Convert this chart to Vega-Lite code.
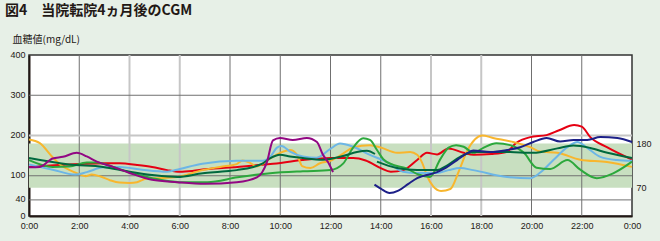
{
  "$schema": "https://vega.github.io/schema/vega-lite/v6.json",
  "width": 603,
  "height": 161,
  "autosize": "none",
  "padding": {"left": 29, "top": 55, "right": 28, "bottom": 25},
  "background": "#e7f0e7",
  "title": {
    "text": "図4　当院転院4ヵ月後のCGM",
    "anchor": "start",
    "frame": "group",
    "dx": -24,
    "offset": 16,
    "font": "Noto Sans CJK JP",
    "fontSize": 14,
    "fontWeight": "bold",
    "color": "#231815"
  },
  "config": {
    "view": {"stroke": "#333333", "strokeWidth": 1.5, "fill": "white"},
    "font": "Liberation Sans",
    "axis": {"labelFont": "Liberation Sans", "labelFontSize": 9, "labelColor": "#231815"}
  },
  "resolve": {"axis": {"y": "independent"}},
  "layer": [
    {
      "data": {"values": [{"lo": 70, "hi": 180}]},
      "mark": {"type": "rect", "color": "#c8dfc0"},
      "encoding": {
        "y": {
          "field": "lo", "type": "quantitative",
          "scale": {"domain": [0, 400], "nice": false, "zero": true},
          "axis": {"orient": "right", "values": [70, 180], "domain": false, "ticks": false, "grid": false, "labelPadding": 4, "title": null}
        },
        "y2": {"field": "hi"}
      }
    },
    {
      "data": {"values": [{"h": 2}, {"h": 4}, {"h": 6}, {"h": 8}, {"h": 10}, {"h": 12}, {"h": 14}, {"h": 16}, {"h": 18}, {"h": 20}, {"h": 22}]},
      "mark": {"type": "rule"},
      "encoding": {
        "x": {
          "field": "h", "type": "quantitative",
          "scale": {"domain": [0, 24], "nice": false, "zero": false},
          "axis": {"values": [0, 2, 4, 6, 8, 10, 12, 14, 16, 18, 20, 22, 24], "labelExpr": "(floor(datum.value) % 24) + ':00'", "domainColor": "#231815", "domainWidth": 2, "ticks": false, "grid": false, "labelPadding": 5, "labelFlush": false, "labelOverlap": false, "title": null}
        },
        "color": {"condition": {"test": "indexof([4, 6, 16, 18], datum.h) >= 0", "value": "#c6c6c6"}, "value": "#707070"},
        "strokeWidth": {"condition": {"test": "indexof([4, 6, 16, 18], datum.h) >= 0", "value": 2}, "value": 1}
      }
    },
    {
      "data": {"values": [{"v": 40}, {"v": 100}, {"v": 200}, {"v": 300}]},
      "mark": {"type": "rule"},
      "encoding": {
        "y": {"field": "v", "type": "quantitative", "scale": {"domain": [0, 400], "nice": false}, "axis": null},
        "color": {"condition": {"test": "datum.v == 200", "value": "#c6c6c6"}, "value": "#707070"},
        "strokeWidth": {"condition": {"test": "datum.v == 200", "value": 2}, "value": 1}
      }
    },
    {
      "data": {"name": "cgm"},
      "mark": {"type": "line", "strokeWidth": 2, "interpolate": "monotone"},
      "encoding": {
        "x": {"field": "h", "type": "quantitative", "scale": {"domain": [0, 24], "nice": false, "zero": false}},
        "y": {
          "field": "v", "type": "quantitative",
          "scale": {"domain": [0, 400], "nice": false},
          "axis": {"orient": "left", "values": [0, 40, 100, 200, 300, 400], "domainColor": "#231815", "domainWidth": 2, "ticks": false, "grid": false, "labelPadding": 4, "labelOffset": -1,
            "title": "血糖値(mg/dL)", "titleAngle": 0, "titleX": -17, "titleY": -16, "titleAlign": "left", "titleBaseline": "middle",
            "titleFont": "Noto Sans CJK JP", "titleFontSize": 10, "titleFontWeight": "normal", "titleColor": "#231815"}
        },
        "color": {
          "field": "s", "type": "nominal", "legend": null,
          "scale": {"domain": ["A", "B", "C", "D", "E", "F", "G"], "range": ["#e60012", "#f8b62d", "#6cb6e6", "#2ca83c", "#00693e", "#920783", "#1d2088"]}
        },
        "detail": {"field": "seg"}
      }
    }
  ],
  "datasets": {
    "cgm": [
      {"s": "A", "h": 0, "v": 122}, {"s": "A", "h": 1, "v": 126}, {"s": "A", "h": 2, "v": 129}, {"s": "A", "h": 3, "v": 131}, {"s": "A", "h": 3.6, "v": 131}, {"s": "A", "h": 4.3, "v": 127}, {"s": "A", "h": 4.9, "v": 122}, {"s": "A", "h": 5.5, "v": 114}, {"s": "A", "h": 6, "v": 110}, {"s": "A", "h": 6.5, "v": 112}, {"s": "A", "h": 7, "v": 116}, {"s": "A", "h": 8.3, "v": 122}, {"s": "A", "h": 9.6, "v": 129}, {"s": "A", "h": 10.9, "v": 139}, {"s": "A", "h": 12, "v": 144}, {"s": "A", "h": 12.9, "v": 144}, {"s": "A", "h": 13.4, "v": 138}, {"s": "A", "h": 14, "v": 119}, {"s": "A", "h": 14.4, "v": 110}, {"s": "A", "h": 14.9, "v": 114}, {"s": "A", "h": 15.45, "v": 139}, {"s": "A", "h": 15.84, "v": 157}, {"s": "A", "h": 16.24, "v": 153}, {"s": "A", "h": 16.7, "v": 168}, {"s": "A", "h": 17.3, "v": 157}, {"s": "A", "h": 17.7, "v": 152}, {"s": "A", "h": 18.4, "v": 154}, {"s": "A", "h": 19, "v": 159}, {"s": "A", "h": 19.4, "v": 182}, {"s": "A", "h": 19.95, "v": 196}, {"s": "A", "h": 20.6, "v": 201}, {"s": "A", "h": 21.1, "v": 213}, {"s": "A", "h": 21.7, "v": 226}, {"s": "A", "h": 22, "v": 222}, {"s": "A", "h": 22.34, "v": 196}, {"s": "A", "h": 23, "v": 171}, {"s": "A", "h": 24, "v": 140},
      {"s": "B", "h": 0, "v": 190}, {"s": "B", "h": 0.43, "v": 181}, {"s": "B", "h": 0.94, "v": 146}, {"s": "B", "h": 1.3, "v": 125}, {"s": "B", "h": 1.62, "v": 114}, {"s": "B", "h": 2, "v": 104}, {"s": "B", "h": 2.25, "v": 99}, {"s": "B", "h": 2.5, "v": 103}, {"s": "B", "h": 2.85, "v": 98}, {"s": "B", "h": 3.22, "v": 89}, {"s": "B", "h": 3.6, "v": 83}, {"s": "B", "h": 4, "v": 82}, {"s": "B", "h": 4.3, "v": 84}, {"s": "B", "h": 4.7, "v": 93}, {"s": "B", "h": 5.2, "v": 94}, {"s": "B", "h": 5.9, "v": 97}, {"s": "B", "h": 6.9, "v": 114}, {"s": "B", "h": 7.6, "v": 122}, {"s": "B", "h": 8.27, "v": 129}, {"s": "B", "h": 8.5, "v": 138}, {"s": "B", "h": 8.8, "v": 132}, {"s": "B", "h": 9.07, "v": 123}, {"s": "B", "h": 9.31, "v": 130}, {"s": "B", "h": 9.6, "v": 143}, {"s": "B", "h": 10, "v": 157}, {"s": "B", "h": 10.39, "v": 164}, {"s": "B", "h": 10.67, "v": 152}, {"s": "B", "h": 10.87, "v": 124}, {"s": "B", "h": 11.2, "v": 119}, {"s": "B", "h": 11.58, "v": 131}, {"s": "B", "h": 12, "v": 137}, {"s": "B", "h": 12.5, "v": 155}, {"s": "B", "h": 12.9, "v": 170}, {"s": "B", "h": 13.57, "v": 176}, {"s": "B", "h": 14, "v": 170}, {"s": "B", "h": 14.65, "v": 157}, {"s": "B", "h": 15.17, "v": 159}, {"s": "B", "h": 15.45, "v": 152}, {"s": "B", "h": 15.65, "v": 132}, {"s": "B", "h": 15.84, "v": 100}, {"s": "B", "h": 16.08, "v": 74}, {"s": "B", "h": 16.4, "v": 62}, {"s": "B", "h": 16.77, "v": 67}, {"s": "B", "h": 17.1, "v": 110}, {"s": "B", "h": 17.44, "v": 162}, {"s": "B", "h": 18.04, "v": 200}, {"s": "B", "h": 18.47, "v": 194}, {"s": "B", "h": 19.27, "v": 184}, {"s": "B", "h": 19.95, "v": 171}, {"s": "B", "h": 20.35, "v": 160}, {"s": "B", "h": 21.03, "v": 157}, {"s": "B", "h": 21.94, "v": 140}, {"s": "B", "h": 23, "v": 134}, {"s": "B", "h": 24, "v": 122},
      {"s": "C", "h": 0, "v": 128}, {"s": "C", "h": 0.94, "v": 115}, {"s": "C", "h": 1.83, "v": 103}, {"s": "C", "h": 2.3, "v": 109}, {"s": "C", "h": 2.95, "v": 121}, {"s": "C", "h": 3.6, "v": 122}, {"s": "C", "h": 4.5, "v": 115}, {"s": "C", "h": 5.5, "v": 110}, {"s": "C", "h": 6, "v": 117}, {"s": "C", "h": 6.9, "v": 130}, {"s": "C", "h": 8.27, "v": 137}, {"s": "C", "h": 9.31, "v": 137}, {"s": "C", "h": 9.6, "v": 147}, {"s": "C", "h": 9.87, "v": 170}, {"s": "C", "h": 10.05, "v": 174}, {"s": "C", "h": 10.39, "v": 160}, {"s": "C", "h": 10.9, "v": 148}, {"s": "C", "h": 11.45, "v": 145}, {"s": "C", "h": 11.98, "v": 166}, {"s": "C", "h": 12.38, "v": 180}, {"s": "C", "h": 12.9, "v": 172}, {"s": "C", "h": 13.57, "v": 152}, {"s": "C", "h": 14.25, "v": 134}, {"s": "C", "h": 14.89, "v": 110}, {"s": "C", "h": 15.45, "v": 107}, {"s": "C", "h": 16.24, "v": 107}, {"s": "C", "h": 16.7, "v": 114}, {"s": "C", "h": 17.16, "v": 119}, {"s": "C", "h": 17.68, "v": 114}, {"s": "C", "h": 19.03, "v": 97}, {"s": "C", "h": 19.95, "v": 94}, {"s": "C", "h": 20.35, "v": 108}, {"s": "C", "h": 20.87, "v": 139}, {"s": "C", "h": 21.43, "v": 171}, {"s": "C", "h": 21.83, "v": 184}, {"s": "C", "h": 22.22, "v": 169}, {"s": "C", "h": 22.74, "v": 147}, {"s": "C", "h": 23.4, "v": 139}, {"s": "C", "h": 24, "v": 137},
      {"s": "D", "h": 0, "v": 139}, {"s": "D", "h": 0.94, "v": 122}, {"s": "D", "h": 1.6, "v": 123}, {"s": "D", "h": 2.3, "v": 133}, {"s": "D", "h": 2.7, "v": 133}, {"s": "D", "h": 3.35, "v": 122}, {"s": "D", "h": 4, "v": 108}, {"s": "D", "h": 4.9, "v": 94}, {"s": "D", "h": 6, "v": 84}, {"s": "D", "h": 7.1, "v": 84}, {"s": "D", "h": 8.3, "v": 96}, {"s": "D", "h": 9.6, "v": 106}, {"s": "D", "h": 10.9, "v": 111}, {"s": "D", "h": 12, "v": 114}, {"s": "D", "h": 12.5, "v": 130}, {"s": "D", "h": 12.9, "v": 170}, {"s": "D", "h": 13.3, "v": 193}, {"s": "D", "h": 13.57, "v": 189}, {"s": "D", "h": 13.85, "v": 164}, {"s": "D", "h": 14.1, "v": 141}, {"s": "D", "h": 14.5, "v": 127}, {"s": "D", "h": 15, "v": 119}, {"s": "D", "h": 15.5, "v": 103}, {"s": "D", "h": 15.96, "v": 97}, {"s": "D", "h": 16.36, "v": 140}, {"s": "D", "h": 16.7, "v": 170}, {"s": "D", "h": 17, "v": 176}, {"s": "D", "h": 17.3, "v": 172}, {"s": "D", "h": 17.7, "v": 157}, {"s": "D", "h": 18.1, "v": 170}, {"s": "D", "h": 18.6, "v": 181}, {"s": "D", "h": 19.15, "v": 176}, {"s": "D", "h": 19.7, "v": 157}, {"s": "D", "h": 20.2, "v": 120}, {"s": "D", "h": 20.75, "v": 117}, {"s": "D", "h": 21.43, "v": 139}, {"s": "D", "h": 21.94, "v": 115}, {"s": "D", "h": 22.6, "v": 94}, {"s": "D", "h": 23.25, "v": 106}, {"s": "D", "h": 24, "v": 135},
      {"s": "E", "seg": 1, "h": 0, "v": 144}, {"s": "E", "seg": 1, "h": 1.6, "v": 128}, {"s": "E", "seg": 1, "h": 2.95, "v": 122}, {"s": "E", "seg": 1, "h": 4, "v": 110}, {"s": "E", "seg": 1, "h": 4.9, "v": 102}, {"s": "E", "seg": 1, "h": 5.9, "v": 97}, {"s": "E", "seg": 1, "h": 6.92, "v": 106}, {"s": "E", "seg": 1, "h": 7.6, "v": 110}, {"s": "E", "seg": 1, "h": 8.27, "v": 114}, {"s": "E", "seg": 1, "h": 9.31, "v": 131}, {"s": "E", "seg": 1, "h": 9.59, "v": 143}, {"s": "E", "seg": 1, "h": 9.99, "v": 152}, {"s": "E", "seg": 1, "h": 10.39, "v": 148}, {"s": "E", "seg": 1, "h": 10.9, "v": 144}, {"s": "E", "seg": 1, "h": 11.7, "v": 140}, {"s": "E", "seg": 1, "h": 12.5, "v": 149}, {"s": "E", "seg": 1, "h": 13.05, "v": 159}, {"s": "E", "seg": 1, "h": 13.45, "v": 162}, {"s": "E", "seg": 1, "h": 13.77, "v": 154},
      {"s": "E", "seg": 2, "h": 13.85, "v": 135}, {"s": "E", "seg": 2, "h": 14.65, "v": 119}, {"s": "E", "seg": 2, "h": 15.45, "v": 114}, {"s": "E", "seg": 2, "h": 16.24, "v": 114}, {"s": "E", "seg": 2, "h": 16.6, "v": 124}, {"s": "E", "seg": 2, "h": 17.16, "v": 147}, {"s": "E", "seg": 2, "h": 17.68, "v": 159}, {"s": "E", "seg": 2, "h": 19.03, "v": 159}, {"s": "E", "seg": 2, "h": 20.07, "v": 157}, {"s": "E", "seg": 2, "h": 21.03, "v": 168}, {"s": "E", "seg": 2, "h": 21.67, "v": 175}, {"s": "E", "seg": 2, "h": 22.34, "v": 169}, {"s": "E", "seg": 2, "h": 23.02, "v": 157}, {"s": "E", "seg": 2, "h": 24, "v": 144},
      {"s": "F", "h": 0, "v": 121}, {"s": "F", "h": 0.43, "v": 122}, {"s": "F", "h": 0.94, "v": 143}, {"s": "F", "h": 1.35, "v": 147}, {"s": "F", "h": 1.9, "v": 157}, {"s": "F", "h": 2.3, "v": 148}, {"s": "F", "h": 2.7, "v": 135}, {"s": "F", "h": 3.35, "v": 122}, {"s": "F", "h": 4, "v": 107}, {"s": "F", "h": 4.9, "v": 90}, {"s": "F", "h": 5.9, "v": 84}, {"s": "F", "h": 7, "v": 80}, {"s": "F", "h": 8.27, "v": 84}, {"s": "F", "h": 9.07, "v": 96}, {"s": "F", "h": 9.47, "v": 134}, {"s": "F", "h": 9.71, "v": 188}, {"s": "F", "h": 9.99, "v": 194}, {"s": "F", "h": 10.5, "v": 189}, {"s": "F", "h": 11.06, "v": 194}, {"s": "F", "h": 11.46, "v": 184}, {"s": "F", "h": 11.7, "v": 152}, {"s": "F", "h": 11.9, "v": 134}, {"s": "F", "h": 12.1, "v": 109},
      {"s": "G", "h": 13.75, "v": 78}, {"s": "G", "h": 14, "v": 68}, {"s": "G", "h": 14.35, "v": 57}, {"s": "G", "h": 14.7, "v": 63}, {"s": "G", "h": 15.1, "v": 80}, {"s": "G", "h": 15.45, "v": 94}, {"s": "G", "h": 16.24, "v": 109}, {"s": "G", "h": 16.6, "v": 120}, {"s": "G", "h": 17.04, "v": 139}, {"s": "G", "h": 17.44, "v": 156}, {"s": "G", "h": 17.68, "v": 163}, {"s": "G", "h": 18.36, "v": 159}, {"s": "G", "h": 19.03, "v": 164}, {"s": "G", "h": 19.55, "v": 171}, {"s": "G", "h": 20.07, "v": 184}, {"s": "G", "h": 20.6, "v": 194}, {"s": "G", "h": 21.14, "v": 185}, {"s": "G", "h": 21.67, "v": 189}, {"s": "G", "h": 22.22, "v": 189}, {"s": "G", "h": 22.74, "v": 196}, {"s": "G", "h": 23.42, "v": 194}, {"s": "G", "h": 24, "v": 184}
    ]
  }
}
